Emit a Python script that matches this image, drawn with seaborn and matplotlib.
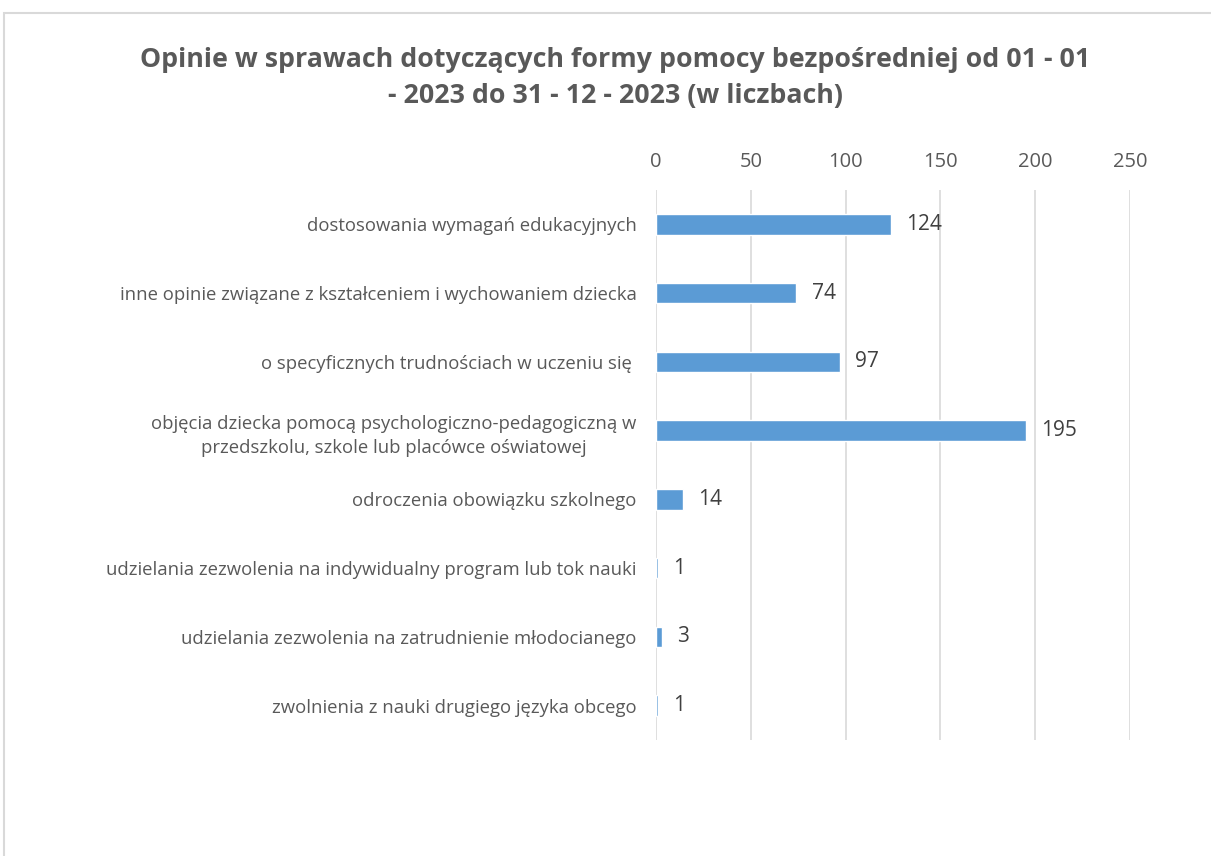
import pandas as pd
import seaborn as sns
import matplotlib.pyplot as plt
from matplotlib.patches import Rectangle

# dane
kategorie = [
    "dostosowania wymagań edukacyjnych",
    "inne opinie związane z kształceniem i wychowaniem dziecka",
    "o specyficznych trudnościach w uczeniu się ",
    "objęcia dziecka pomocą psychologiczno-pedagogiczną w\nprzedszkolu, szkole lub placówce oświatowej",
    "odroczenia obowiązku szkolnego",
    "udzielania zezwolenia na indywidualny program lub tok nauki",
    "udzielania zezwolenia na zatrudnienie młodocianego",
    "zwolnienia z nauki drugiego języka obcego",
]
liczby = [124, 74, 97, 195, 14, 1, 3, 1]
ticki = [0, 50, 100, 150, 200, 250]

df = pd.DataFrame({"kategoria": kategorie, "liczba": liczby})

sns.set_theme(style="white")
plt.rcParams['font.family'] = ['Open Sans', 'DejaVu Sans']

fig = plt.figure(figsize=(12.11, 8.56), dpi=100)
ax = fig.add_axes([0.5417, 0.1355, 0.3914, 0.6425])

sns.barplot(data=df, x="liczba", y="kategoria", color="#5B9BD5", width=0.3,
            saturation=1, ax=ax, zorder=3)

ax.set_xlim(0, 250)
ax.set_xticks(ticki)
ax.xaxis.tick_top()
ax.tick_params(axis='x', length=0, labelsize=14.5, labelcolor="#595959", pad=13)
ax.tick_params(axis='y', length=0, labelsize=13.3, labelcolor="#595959", pad=14)
for lab in ax.get_yticklabels():
    lab.set_horizontalalignment('right')
    lab.set_multialignment('center')
    lab.set_linespacing(1.45)
ax.grid(axis='x', color="#D9D9D9", linewidth=1.2, zorder=0)
for s in ax.spines.values():
    s.set_visible(False)
ax.set_xlabel("")
ax.set_ylabel("")

for i, v in enumerate(liczby):
    ax.annotate(str(v), (v, i), xytext=(11, 0), textcoords='offset points',
                va='center', ha='left', fontsize=15, color="#404040")

fig.text(0.508, 0.9085, "Opinie w sprawach dotyczących formy pomocy bezpośredniej od 01 - 01\n- 2023 do 31 - 12 - 2023 (w liczbach)",
         ha='center', va='center', fontsize=19.3, fontweight='bold', color="#595959",
         linespacing=1.5)

# ramka obszaru wykresu
fig.patches.append(Rectangle((0.0035, -0.1), 1.1, 1.0848, transform=fig.transFigure,
                             fill=False, edgecolor="#D9D9D9", linewidth=1.5))

fig.savefig("out.png", dpi=100)
